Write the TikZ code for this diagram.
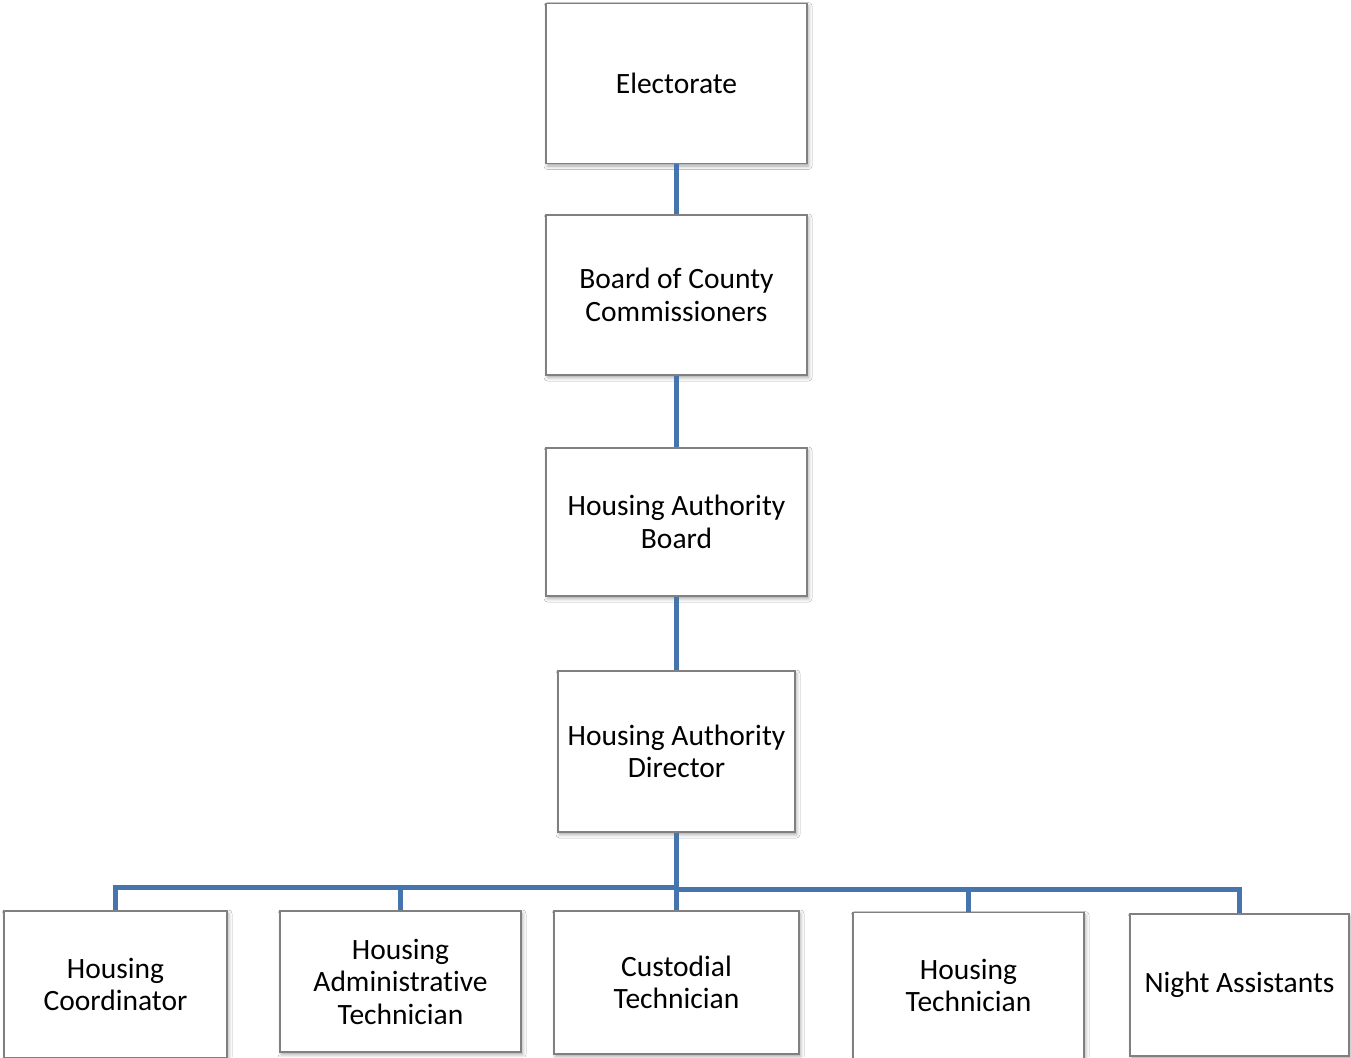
\documentclass[tikz,border=0pt]{standalone}
\usepackage{fontspec}
\setmainfont{Carlito}[Ligatures=NoCommon]
\usetikzlibrary{shadows.blur}
\definecolor{connblue}{RGB}{70,116,172}
\definecolor{boxgray}{RGB}{128,128,128}
\begin{document}
\begin{tikzpicture}[x=1pt,y=-1pt,
  box/.style={draw=boxgray, line width=1.2pt, fill=white, rectangle, align=center,
    inner sep=0pt, font=\fontsize{29.5}{32.5}\selectfont,
    blur shadow={shadow xshift=1.5pt, shadow yshift=-2.5pt, shadow blur radius=3.5pt, shadow opacity=35}},
  conn/.style={draw=connblue, line width=5pt, line join=miter}]
\useasboundingbox[fill=white] (0,0) rectangle (1351,1057);
\node[box, minimum width=261pt, minimum height=160pt] (e) at (676.5,83.5) {Electorate};
\node[box, minimum width=261pt, minimum height=160pt] (b) at (676.5,295) {Board of County\\Commissioners};
\node[box, minimum width=261pt, minimum height=148pt] (hab) at (676.5,522) {Housing Authority\\Board};
\node[box, minimum width=237pt, minimum height=161pt] (had) at (676.5,751.5) {Housing Authority\\Director};
\coordinate (busl) at (676.5,887);
\coordinate (busr) at (676.5,889);
\draw[conn] (e.south) -- (b.north);
\draw[conn] (b.south) -- (hab.north);
\draw[conn] (hab.south) -- (had.north);
\node[box, minimum width=223pt, minimum height=147pt] (hc) at (115.5,984.5) {Housing\\Coordinator};
\node[box, minimum width=241pt, minimum height=141pt] (hat) at (400.5,981.5) {Housing\\Administrative\\Technician};
\node[box, minimum width=245pt, minimum height=143pt] (ct) at (676.5,982.5) {Custodial\\Technician};
\node[box, minimum width=231pt, minimum height=146pt] (ht) at (968.5,985.5) {Housing\\Technician};
\node[box, minimum width=219pt, minimum height=142pt] (na) at (1239.5,985) {Night Assistants};
\draw[conn] (had.south) -- (ct.north);
\draw[conn] (hc.north) |- (busl);
\draw[conn] (hat.north) -- (hat.north |- busl);
\draw[conn] (na.north) |- (busr);
\draw[conn] (ht.north) -- (ht.north |- busr);
\end{tikzpicture}
\end{document}
